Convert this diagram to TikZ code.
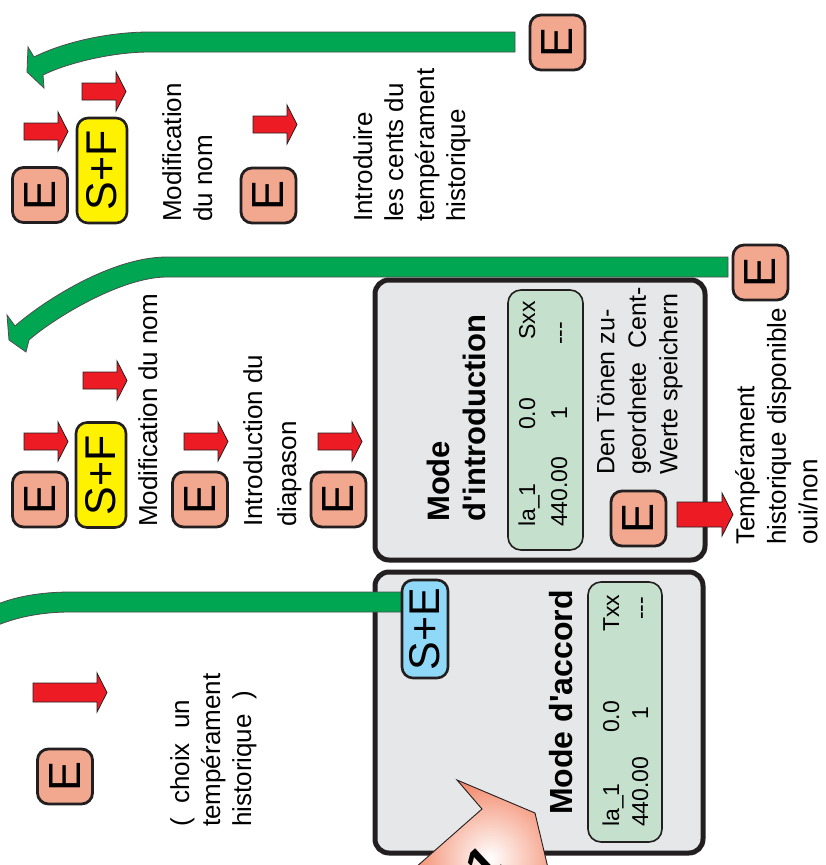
\documentclass[tikz,border=0pt]{standalone}
\usepackage{fontspec}
\setmainfont{Liberation Sans}
\definecolor{dk}{HTML}{231F20}
\definecolor{eSalmon}{HTML}{F2A78F}
\definecolor{redA}{HTML}{ED1C24}
\definecolor{greenA}{HTML}{00A651}
\definecolor{yellowA}{HTML}{FFF200}
\definecolor{blueA}{HTML}{8FD8F8}
\definecolor{panelgray}{HTML}{E6E7E8}
\definecolor{dispgreen}{HTML}{C5E1CD}
\definecolor{bigsalmon}{HTML}{F2805F}
\begin{document}
\begin{tikzpicture}[x=1pt,y=-1pt,
  ebox/.style={draw=dk,line width=2.8pt,fill=eSalmon,rounded corners=11pt,minimum width=55pt,minimum height=55pt,inner sep=0pt,rotate=90,font=\fontsize{45}{45}\selectfont},
  sfbox/.style={draw=dk,line width=2.6pt,fill=yellowA,rounded corners=11pt,minimum width=105pt,minimum height=50pt,inner sep=0pt,rotate=90,font=\fontsize{43}{43}\selectfont},
  sebox/.style={draw=dk,line width=2.6pt,fill=blueA,rounded corners=11pt,minimum width=98pt,minimum height=46pt,inner sep=0pt,rotate=90,font=\fontsize{43}{43}\selectfont},
  panelbox/.style={draw=dk,line width=5pt,fill=panelgray,rounded corners=14pt,inner sep=0pt},
  dispbox/.style={draw=dk,line width=1.6pt,fill=dispgreen,rounded corners=13pt,inner sep=0pt},
  lbl/.style={rotate=90,anchor=north west,inner sep=0pt,align=left,font=\fontsize{26}{31}\selectfont},
  ttl/.style={rotate=90,anchor=north west,inner sep=0pt,align=left,font=\fontsize{31}{36}\selectfont\bfseries},
  disp/.style={rotate=90,anchor=base west,inner sep=0pt,font=\fontsize{23}{23}\selectfont},
  redfill/.style={draw=dk,line width=0.8pt,fill=redA,line join=miter},
  greenfill/.style={draw=dk!80,line width=0.8pt,fill=greenA},
  pics/redarr/.style={code={\draw[redfill] (0,11) -- (34,11) -- (34,0) -- (44,19.5) -- (34,39) -- (34,28) -- (0,28) -- cycle;}},
  pics/redarrL/.style={code={\draw[redfill] (0,10) -- (64,10) -- (64,0) -- (74,19.5) -- (64,39) -- (64,29) -- (0,29) -- cycle;}},
  pics/redarrB/.style={code={\draw[redfill] (0,9) -- (45,9) -- (45,0) -- (56,21.5) -- (45,43) -- (45,34) -- (0,34) -- cycle;}}
]
\useasboundingbox (0,0) rectangle (826,865);
\fill[white] (0,0) rectangle (826,865);
\clip (0,0) rectangle (826,865);

% ---------- top section ----------
\draw[greenfill] (515,32) -- (150,32) .. controls (105,32) and (61,43.5) .. (34,57) -- (28,47) -- (27,72) -- (44,88) -- (43,75) .. controls (65,64) and (110,52) .. (150,52) -- (515,52) -- cycle;
\node[ebox] (Ec) at (557.5,42.5) {E};

\node[ebox] (Ea) at (40,195) {E};
\pic at (24,112) {redarr};
\node[sfbox] (SFa) at (102,170.5) {S+F};
\pic at (82,72) {redarr};
\node[lbl] (Ta) at (162,222) {Modification\\du nom};
\node[ebox] (Eb) at (268.5,195.5) {E};
\pic at (253,105) {redarr};
\node[lbl] (Tb) at (353,222) {Introduire\\les cents du\\tempérament\\historique};

% ---------- middle section ----------
\draw[greenfill] (728,257) -- (167,257) .. controls (110,257) and (41,303) .. (15,326) -- (7,315) -- (9,340) -- (26,352) -- (29,340) .. controls (51.5,320) and (120,277) .. (167,277) -- (728,277) -- cycle;
\node[ebox] (Eh) at (760.5,272.5) {E};

\node[ebox] (Ed) at (40,499.5) {E};
\pic at (24,422) {redarr};
\node[sfbox] (SFb) at (101,475) {S+F};
\pic at (83,361) {redarr};
\node[lbl] (Tc) at (138,527) {Modification du nom};
\node[ebox] (Ee) at (200,499.5) {E};
\pic at (184,422) {redarr};
\node[lbl,font=\fontsize{26}{34}\selectfont] (Td) at (243,527) {Introduction du\\diapason};
\node[ebox] (Ef) at (338.5,499.5) {E};
\pic at (318,422) {redarr};

% ---------- panel: mode d'introduction ----------
\node[panelbox,minimum width=330pt,minimum height=280pt] (Pi) at (540,420) {};
\node[dispbox,minimum width=75pt,minimum height=260pt] (Di) at (545.5,420) {};
\node[ttl] (Ti) at (427,522) {Mode\\d\textquotesingle introduction};
\node[disp] at (535,527) {la\_1};
\node[disp] at (535,430) {0.0};
\node[disp] at (535,340) {Sxx};
\node[disp] at (567,527) {440.00};
\node[disp] at (567,420) {1};
\node[disp] at (567,345) {-{}-{}-};
\node[lbl,font=\fontsize{25}{31.5}\selectfont] (Te) at (597,475) {Den Tönen zu-\\geordnete~~Cent-\\Werte speichern};
\node[ebox] (Eg) at (638.5,518.5) {E};
\pic at (677,493) {redarrB};
\node[lbl,font=\fontsize{26}{31.5}\selectfont] (Tf) at (735,545) {Tempérament\\historique disponible\\oui/non};

% ---------- bottom section ----------
\node[ebox] (Ei) at (65,776.5) {E};
\pic at (33,673) {redarrL};
\node[lbl] (Tg) at (170,827) {(~~choix~~un\\tempérament\\historique~~)};

\node[panelbox,minimum width=328pt,minimum height=281pt] (Pa) at (539,712.5) {};
\node[dispbox,minimum width=74pt,minimum height=260pt] (Da) at (625,712) {};
\node[ttl,font=\fontsize{32}{36}\selectfont\bfseries] (Ta2) at (549,815) {Mode d\textquotesingle accord};
\node[disp] at (619,827) {la\_1};
\node[disp] at (619,733) {0.0};
\node[disp] at (619,632) {Txx};
\node[disp] at (648,827) {440.00};
\node[disp] at (648,720) {1};
\node[disp] at (648,620) {-{}-{}-};

\draw[greenfill] (402,592) -- (70,592) .. controls (40,592) and (15,597) .. (-2,604) -- (-2,625) .. controls (15,618) and (40,612) .. (70,612) -- (402,612) -- cycle;
\node[sebox] (SE) at (425,629) {S+E};

% big salmon arrow
\begin{scope}
\clip (457,780) -- (535,813) -- (548,868) -- (415,868) -- (482,809) -- cycle;
\fill[bigsalmon] (400,770) rectangle (560,870);
\shade[inner color=white,outer color=bigsalmon] (490,858) circle (85);
\end{scope}
\draw[dk,line width=0.9pt] (415,868) -- (482,809) -- (457,780) -- (535,813) -- (548,868);
\node[rotate=43,inner sep=0pt,font=\fontsize{50}{50}\selectfont\bfseries] (One) at (484,864) {1};
\end{tikzpicture}
\end{document}
